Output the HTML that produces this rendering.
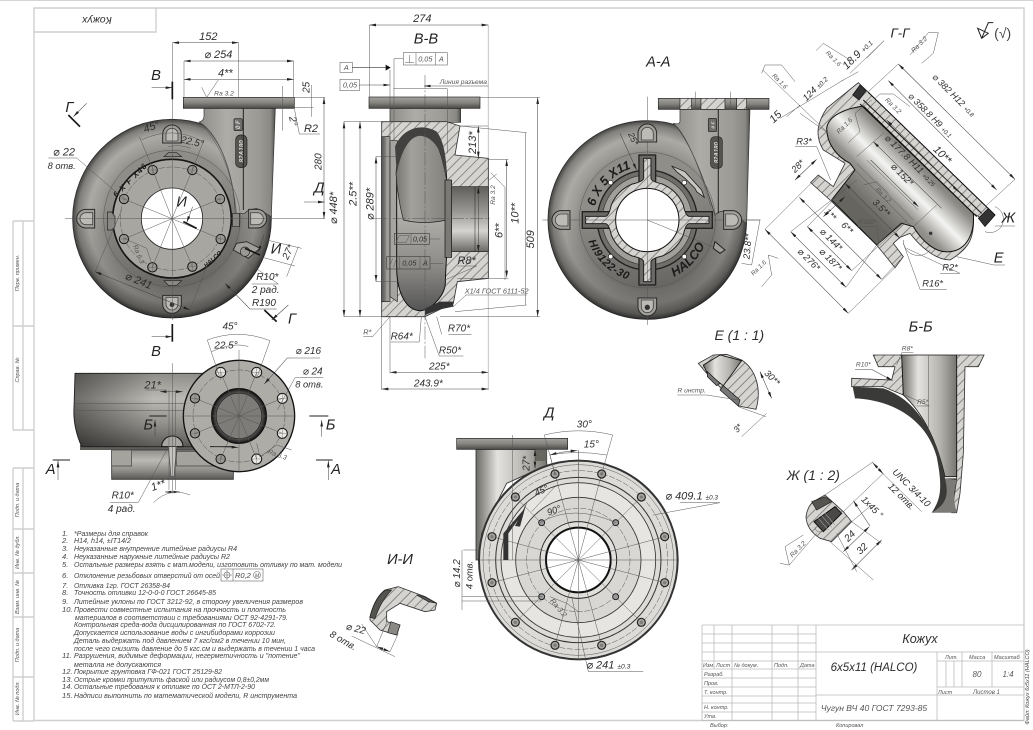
<!DOCTYPE html>
<html lang="ru"><head><meta charset="utf-8"><title>Кожух</title>
<style>
html,body{margin:0;padding:0;background:#fff}
svg{display:block}
text{font-family:"Liberation Sans","DejaVu Sans",sans-serif;font-style:italic;fill:#2e2e2e}
.t{font-size:33px;text-anchor:middle}
.b{font-size:44px;text-anchor:middle;fill:#222}
.s{font-size:22px;text-anchor:middle;fill:#555}
.n{font-size:7.6px;fill:#444}
.f{font-size:5.5px;fill:#555}
.l{stroke:#555;stroke-width:1.5;fill:none}
.d{stroke:#444;stroke-width:1.6;fill:none;marker-start:url(#a);marker-end:url(#a)}
.e{stroke:#444;stroke-width:1.6;fill:none;marker-end:url(#a)}
.c{stroke:#444;stroke-width:1.5;fill:none;stroke-dasharray:40 6 6 6}
.k{stroke:#161616;stroke-width:5;fill:none}
.m{stroke:#222;stroke-width:3;fill:none}
.fr{stroke:#cfcfcf;stroke-width:1.4;fill:none}
.tb{stroke:#bbb;stroke-width:.8;fill:none}
.h{fill:url(#hatch);stroke:#333;stroke-width:2.5}
.bold{font-weight:bold;font-size:38px;fill:#1c1c1c}
</style></head><body>
<svg xmlns="http://www.w3.org/2000/svg" width="1033" height="730" viewBox="0 0 1033 730">
<defs>
<marker id="a" markerUnits="userSpaceOnUse" viewBox="0 0 20 8" refX="20" refY="4" markerWidth="20" markerHeight="8" orient="auto-start-reverse"><path d="M0,0L20,4L0,8Z" fill="#222"/></marker>
<pattern id="hatch" patternUnits="userSpaceOnUse" width="20" height="20" patternTransform="rotate(45)"><rect width="20" height="20" fill="#d6d4d0"/><line x1="10" y1="0" x2="10" y2="20" stroke="#555" stroke-width="1.8"/></pattern>
<radialGradient id="vol"><stop offset="0" stop-color="#93918c"/><stop offset=".68" stop-color="#8f8d88"/><stop offset=".72" stop-color="#9a9893"/><stop offset=".84" stop-color="#acaaa5"/><stop offset=".95" stop-color="#807e7a"/><stop offset="1" stop-color="#444442"/></radialGradient>
<linearGradient id="shade" x1="0" x2=".25" y1="0" y2="1"><stop offset=".45" stop-color="#000" stop-opacity="0"/><stop offset="1" stop-color="#000" stop-opacity=".32"/></linearGradient>
<linearGradient id="neck" x1="0" x2="1" y1="0" y2="0"><stop offset="0" stop-color="#8f8d88"/><stop offset=".35" stop-color="#aeaca7"/><stop offset=".78" stop-color="#9c9a95"/><stop offset=".94" stop-color="#8a8883"/><stop offset="1" stop-color="#4f4f4d"/></linearGradient>
<linearGradient id="neck2" x1="0" x2="1" y1="0" y2="0"><stop offset="0" stop-color="#6d6b66"/><stop offset=".3" stop-color="#e3e2de"/><stop offset=".7" stop-color="#b5b3ae"/><stop offset="1" stop-color="#777570"/></linearGradient>
<linearGradient id="fl" x1="0" x2="0" y1="0" y2="1"><stop offset="0" stop-color="#a5a39e"/><stop offset=".5" stop-color="#86847f"/><stop offset="1" stop-color="#4a4947"/></linearGradient>
<linearGradient id="bore" x1="0" x2="0" y1="0" y2="1"><stop offset="0" stop-color="#5f5e5b"/><stop offset=".4" stop-color="#9c9a96"/><stop offset=".68" stop-color="#d5d4d0"/><stop offset="1" stop-color="#6a6965"/></linearGradient>
<linearGradient id="vcav" x1="0" x2="1" y1="0" y2="0"><stop offset="0" stop-color="#77756f"/><stop offset=".3" stop-color="#a3a19c"/><stop offset="1" stop-color="#84827d"/></linearGradient>
<linearGradient id="vlow" x1="0" x2="0" y1="0" y2="1"><stop offset="0" stop-color="#8f8d88"/><stop offset=".35" stop-color="#c0bfba"/><stop offset=".75" stop-color="#8e8c88"/><stop offset="1" stop-color="#555"/></linearGradient>
<linearGradient id="ggcav" gradientUnits="userSpaceOnUse" x1="770" y1="430" x2="560" y2="640"><stop offset="0" stop-color="#4a4946"/><stop offset=".3" stop-color="#8f8d88"/><stop offset=".52" stop-color="#f4f4f2"/><stop offset=".72" stop-color="#95938e"/><stop offset="1" stop-color="#66655f"/></linearGradient>
<linearGradient id="body" x1="0" x2="0" y1="0" y2="1"><stop offset="0" stop-color="#8f8d88"/><stop offset=".35" stop-color="#bcbab4"/><stop offset=".7" stop-color="#908e89"/><stop offset="1" stop-color="#5a5956"/></linearGradient>
<linearGradient id="bodyL" x1="0" x2="1" y1="0" y2="0"><stop offset="0" stop-color="#000" stop-opacity=".42"/><stop offset=".6" stop-color="#000" stop-opacity="0"/></linearGradient>
<linearGradient id="bodyx" x1="0" x2="1" y1="0" y2="0"><stop offset="0" stop-color="#555"/><stop offset=".45" stop-color="#7e7c78"/><stop offset=".55" stop-color="#9a9893"/><stop offset="1" stop-color="#a8a6a1"/></linearGradient>
<radialGradient id="cup"><stop offset="0" stop-color="#6a6966"/><stop offset=".7" stop-color="#8a8985"/><stop offset=".9" stop-color="#3d3c3a"/><stop offset="1" stop-color="#151515"/></radialGradient>
<g id="lug"><path d="M-28,24L28,24L28,-2A28,28 0 0 0 -28,-2Z" fill="#a19f99" stroke="#2a2a2a" stroke-width="3"/><path d="M-18,18L18,18L18,-2A18,18 0 0 0 -18,-2Z" fill="#bdbbb5" stroke="#444" stroke-width="2.5"/></g>
<g id="bolt"><circle r="14" fill="#9a9892" stroke="#161616" stroke-width="3"/><path d="M-14,0H14M0,-14V14" stroke="#555" stroke-width="1"/></g>
<g id="wb"><circle r="15" fill="#e9e8e4" stroke="#161616" stroke-width="3"/><path d="M-15,0H15M0,-15V15" stroke="#555" stroke-width="1"/></g>
<g id="h3"><circle r="12" fill="#a6a4a0" stroke="#222" stroke-width="3.5"/><circle r="5" fill="#7d7c78"/></g>
<path id="arcU" d="M-162,0A162,162 0 0 1 162,0"/>
<path id="arcD" d="M-188,0A188,188 0 0 0 188,0"/>
</defs>

<!-- sheet frame -->
<rect width="1033" height="730" fill="#fff"/>
<path d="M0,.5H1033" stroke="#d4d4d4" fill="none"/>
<path class="fr" d="M34,8H1024V720.5H34ZM34,32H156V8"/>
<path class="fr" d="M13,221H34M13,326H34M13,430H34M13,221V430M23,221V430M13,468H34M13,529H34M13,573H34M13,617H34M13,677H34M13,721H34M13,468V721M23,468V721"/>
<text transform="translate(97,20) rotate(180)" style="font-size:10.5px;text-anchor:middle;dominant-baseline:middle">Кожух</text>
<g class="f" style="font-size:5px"><text class="f" transform="translate(19,273) rotate(-90)" text-anchor="middle">Перв. примен.</text><text class="f" transform="translate(19,370) rotate(-90)" text-anchor="middle">Справ. №</text><text class="f" transform="translate(19,500) rotate(-90)" text-anchor="middle">Подп. и дата</text><text class="f" transform="translate(19,552) rotate(-90)" text-anchor="middle">Инв. № дубл.</text><text class="f" transform="translate(19,597) rotate(-90)" text-anchor="middle">Взам. инв. №</text><text class="f" transform="translate(19,645) rotate(-90)" text-anchor="middle">Подп. и дата</text><text class="f" transform="translate(19,698) rotate(-90)" text-anchor="middle">Инв. № подл.</text></g>

<!-- ===== FRONT VIEW ===== -->
<g transform="scale(.33333)">
<circle cx="516" cy="656" r="298" fill="url(#vol)" stroke="#2e2e2e" stroke-width="2.5"/>
<circle cx="516" cy="656" r="298" fill="url(#shade)"/>
<path d="M612,325V348Q612,362 598,366C650,400 700,500 706,640L735,640Q740,630 770,625L814,650L826,325Z" fill="url(#neck)" stroke="#333" stroke-width="2"/>
<rect x="550" y="292" width="333" height="33" fill="url(#fl)" stroke="#222" stroke-width="2"/>
<path d="M600,368C650,420 695,500 710,640M620,385C660,430 680,480 698,560" class="l"/>
<circle cx="516" cy="656" r="205" class="l"/>
<circle cx="516" cy="656" r="178" fill="#a8a6a0" stroke="#161616" stroke-width="5"/>
<circle cx="516" cy="656" r="155" class="l" stroke-dasharray="18 5"/>
<use href="#lug" x="516" y="405"/><use href="#lug" transform="translate(260,656) rotate(-90)"/><use href="#lug" transform="translate(770,656) rotate(90)"/><use href="#lug" transform="translate(516,910) rotate(180)"/>
<circle cx="516" cy="914" r="7" fill="#333"/>
<path d="M492,470H545L530,458H505ZM492,842H545L530,856H505Z" fill="#8a8883" stroke="#222" stroke-width="2"/>
<path d="M322,636H335L345,650V680L335,690H322Z" fill="#8a8883" stroke="#222" stroke-width="2"/>
<path d="M698,640H718V680H698Z" fill="#8a8883" stroke="#222" stroke-width="2"/>
<path d="M710,730L740,725L780,745L745,775L700,750Z" fill="#a19f99" stroke="#222" stroke-width="2.5"/>
<circle cx="735" cy="755" r="14" fill="#9a9892" stroke="#222" stroke-width="2"/>
<use href="#bolt" x="458" y="510"/><use href="#bolt" x="577" y="510"/><use href="#bolt" x="660" y="597"/><use href="#bolt" x="662" y="717"/><use href="#bolt" x="577" y="800"/><use href="#bolt" x="457" y="802"/><use href="#bolt" x="372" y="717"/><use href="#bolt" x="372" y="597"/>
<circle cx="516" cy="656" r="92" fill="#fff" stroke="#222" stroke-width="2.5"/>
<path class="l" d="M516,656L458,510M516,656L577,510M516,656L660,597M516,656L662,717M516,656L577,800M516,656L457,802M516,656L372,717M516,656L372,597"/>
<text transform="translate(396,546) rotate(-45)" class="bold" style="font-size:24px;letter-spacing:3px" text-anchor="middle">6 X F X46</text>
<text transform="translate(642,782) rotate(-42)" class="bold" style="font-size:18px" text-anchor="middle">HALCO</text>
<rect x="702" y="356" width="25" height="36" rx="4" fill="#6e6d6a" stroke="#222" stroke-width="2"/><text transform="translate(720,374) rotate(-90)" class="bold" style="font-size:18px;fill:#ddd" text-anchor="middle">0 F</text>
<rect x="707" y="405" width="34" height="98" rx="14" fill="#55544f" stroke="#222" stroke-width="2"/><text transform="translate(730,454) rotate(-90)" class="bold" style="font-size:19px;fill:#ddd" text-anchor="middle">82A180</text>
<path class="m" d="M730,325V630"/>
<!-- centre lines -->
<path class="l" d="M195,656H975M517,130V960"/>
<!-- dims -->
<path class="d" d="M517,128H716"/><text class="t" x="625" y="120">152</text><path class="l" d="M716,128V292"/>
<path class="d" d="M552,183H881"/><text class="t" x="655" y="174">⌀ 254</text><path class="l" d="M552,183V292M881,183V292"/>
<path class="d" d="M552,238H881"/><text class="t" x="676" y="230">4**</text>
<text class="s" x="672" y="287" style="font-size:20px">Ra 3.2</text><path class="l" d="M605,262L620,292L655,240"/>
<text class="t" transform="translate(928,262) rotate(-90)" style="font-size:30px">25</text><path class="l" d="M845,292H975M845,322H940M935,255V350M847,258V392"/>
<text class="t" transform="translate(870,365) rotate(80)" style="font-size:30px">2°</text>
<text class="t" x="933" y="396">R2</text><path class="l" d="M883,325L898,402H960"/>
<text class="t" transform="translate(964,485) rotate(-90)" style="font-size:30px">280</text><path class="d" d="M972,292V656"/>
<text class="b" x="958" y="578">Д</text><path class="e" d="M912,606H974" stroke-width="3"/>
<text class="b" x="468" y="240">В</text><path class="e" d="M455,263H517"/><path class="k" d="M517,245V298"/>
<path class="e" d="M455,1010H517"/><path class="k" d="M517,972V1025"/>
<text class="b" x="208" y="336">Г</text><path class="k" d="M205,345L240,380"/><path class="e" d="M260,310L220,350"/>
<text class="b" x="876" y="970">Г</text><path class="k" d="M793,930L830,965"/><path class="e" d="M865,915L815,960"/>
<text class="t" x="192" y="467">⌀ 22</text><path class="l" d="M145,474H230L372,597"/><text class="t" x="185" y="507" style="font-size:28px">8 отв.</text>
<text class="t" transform="translate(458,390) rotate(-20)">45°</text><text class="t" transform="translate(575,435) rotate(12)" style="font-size:30px">22.5°</text>
<path class="l" d="M418,410L460,510M612,420L577,510M425,420Q516,375 610,425M505,440Q540,432 572,445"/>
<text class="b" x="545" y="620">И</text><path class="e" d="M578,620L560,668"/><path class="k" d="M550,665L590,685"/>
<text class="b" x="828" y="760">И</text><path class="e" d="M792,705L775,757"/><path class="k" d="M735,745L780,765"/>
<text class="t" transform="translate(873,760) rotate(-65)" style="font-size:30px">27*</text><path class="l" d="M780,770L885,798M800,720L905,745M895,740L860,830"/>
<text class="t" x="802" y="840" style="font-size:30px">R10*</text><path class="l" d="M755,852H835L740,785"/><text class="t" x="797" y="879" style="font-size:30px">2 рад.</text>
<text class="t" x="792" y="918" style="font-size:30px">R190</text><path class="e" d="M830,927H750L675,850"/>
<text class="t" transform="translate(412,852) rotate(22)">⌀ 241</text><path class="d" d="M285,815L570,930"/><path class="l" d="M285,815L365,630M570,930L628,780"/>
<text class="s" transform="translate(410,765) rotate(68)" style="font-size:20px">Ra 6.3</text><path class="l" d="M372,715L440,745L455,790"/>
</g>

<!-- ===== SECTION B-B ===== -->
<g transform="translate(340,0) scale(.33333)">
<path d="M445,75V1170" stroke="#c4c4c4" stroke-width="3"/>
<rect x="150" y="325" width="212" height="42" fill="url(#neck)" stroke="#333" stroke-width="2"/>
<rect x="87" y="291" width="333" height="34" fill="url(#fl)" stroke="#222" stroke-width="2"/>
<path class="h" d="M125,365H320L360,378L345,465L445,475V835L352,845L340,910L300,928L255,950H125Z"/>
<rect x="125" y="410" width="25" height="495" fill="url(#bodyx)" stroke="#222" stroke-width="2"/>
<path d="M150,422H172V905L150,890Z" fill="#a6a4a0" stroke="#222" stroke-width="2"/>
<path d="M170,520C175,440 215,385 250,385C285,385 318,440 320,540V760L316,840C320,880 280,925 245,932C200,935 170,880 170,800Z" fill="url(#vlow)" stroke="#111" stroke-width="3"/>
<path d="M168,520C172,440 215,395 250,395C275,395 300,430 320,540V660Q250,675 190,660Q172,590 168,520Z" fill="url(#vcav)" stroke="#222" stroke-width="2"/>
<path d="M165,440C190,380 250,370 290,395C310,420 320,470 320,530L305,470C290,425 260,405 235,408C200,415 180,470 170,520Z" fill="#42413f"/>
<rect x="315" y="540" width="20" height="232" fill="#7a7974" stroke="#111" stroke-width="2"/>
<rect x="335" y="560" width="110" height="195" fill="url(#bore)" stroke="#222" stroke-width="2"/>
<path class="m" d="M405,560V755" style="stroke-width:1.5"/>
<path d="M255,925L300,905L340,905V920L300,928L255,945Z" fill="#333"/>
<path class="l" d="M255,225V1075M100,655H450" stroke-dasharray="40 6 6 6"/>
<path class="d" d="M88,75H445"/><text class="t" x="247" y="66">274</text><path class="l" d="M88,75V292"/>
<text class="b" x="258" y="130">В-В</text>
<text class="b" x="955" y="200">А-А</text>
<rect x="0" y="187" width="37" height="30" fill="#fff" stroke="#777" stroke-width="2"/><text class="s" x="19" y="210">А</text><path d="M37,202H140" stroke="#333" stroke-width="2"/><path d="M137,194L152,203L137,212Z" fill="#111"/>
<rect x="0" y="238" width="58" height="34" fill="#fff" stroke="#777" stroke-width="2"/><text class="s" x="30" y="263">0,05</text><path class="e" d="M58,255H150"/>
<rect x="190" y="158" width="132" height="37" fill="#fff" stroke="#777" stroke-width="2"/><path d="M228,158V195M286,158V195M195,188H222M208,165V188" class="l"/><text class="s" x="256" y="184">0,05</text><text class="s" x="304" y="184">А</text><path class="l" d="M190,176H162V420"/>
<text class="s" x="370" y="252" style="font-size:20px">Линия разъема</text><path class="e" d="M445,258H252"/><path class="l" d="M160,266H322V460M150,210V430"/>
<path class="d" d="M12,365V950"/><path class="l" d="M12,365H125M12,950H125"/>
<path class="d" d="M60,365V950"/><text class="t" transform="translate(50,582) rotate(-90)">2.5**</text>
<path class="d" d="M108,470V845"/><path class="l" d="M108,470H170M108,845H175"/><text class="t" transform="translate(100,612) rotate(-90)">⌀ 289*</text>
<path class="d" d="M415,378V475"/><text class="t" transform="translate(408,428) rotate(-90)">213*</text><path class="l" d="M360,378H445"/>
<path class="d" d="M500,478V832"/><text class="t" transform="translate(536,640) rotate(-90)">10**</text><path class="l" d="M445,478H505M352,835H505"/>
<path class="d" d="M415,560V755"/><text class="t" transform="translate(488,692) rotate(-90)">6**</text>
<path class="l" d="M360,378L560,398M345,935L560,915M556,398V915"/>
<text class="t" transform="translate(582,718) rotate(-90)">509</text><path class="d" d="M593,292V950"/><path class="l" d="M420,292H600M300,950H600"/>
<text class="s" transform="translate(465,585) rotate(-90)" style="font-size:20px">Ra 3.2</text><path class="l" d="M452,518L495,562V840M470,522L448,540"/>
<text class="t" x="380" y="792">R8*</text><path class="l" d="M352,798H410L315,840"/>
<rect x="163" y="700" width="105" height="33" fill="none" stroke="#444" stroke-width="2"/><path class="l" d="M213,700V733M168,728L178,706H208L198,728ZM268,717H300"/><text class="s" x="240" y="725" style="fill:#333">0,05</text>
<rect x="140" y="770" width="130" height="37" fill="none" stroke="#444" stroke-width="2"/><path class="l" d="M178,770V807M240,770V807M148,802L158,775M160,802L170,775M270,790H310"/><text class="s" x="208" y="797" style="fill:#333">0,05</text><text class="s" x="256" y="797" style="fill:#333">А</text>
<text class="s" x="470" y="880">X1/4 ГОСТ 6111-52</text><path class="l" d="M378,885H560M378,885L340,920"/>
<text class="s" x="82" y="1003">R*</text><path class="l" d="M70,1010H98L150,950"/>
<text class="t" x="185" y="1018" style="font-size:30px">R64*</text><path class="l" d="M152,1026H238L244,950"/>
<text class="t" x="357" y="995" style="font-size:30px">R70*</text><path class="l" d="M325,1003H395M305,1003L290,950"/>
<text class="t" x="330" y="1060" style="font-size:30px">R50*</text><path class="l" d="M298,1068H370M298,1068L255,950"/>
<path class="d" d="M150,1117H445"/><text class="t" x="298" y="1108" style="font-size:30px">225*</text>
<path class="d" d="M125,1167H445"/><text class="t" x="265" y="1160" style="font-size:30px">243.9*</text>
<path class="l" d="M150,950V1120M125,950V1170"/>
</g>
<text class="t" transform="translate(337,208) rotate(-90)" style="font-size:11px">⌀ 448*</text>

<!-- ===== A-A ===== -->
<g transform="translate(647.3,220) scale(.33333)">
<circle r="298" fill="url(#vol)" stroke="#2e2e2e" stroke-width="2.5"/>
<circle r="298" fill="url(#shade)"/>
<path d="M98,-333V-295Q95,-285 78,-290C120,-250 170,-130 203,-15Q215,-30 240,-25L298,10L308,-333Z" fill="url(#neck)" stroke="#333" stroke-width="2"/>
<path class="l" d="M90,-280C130,-230 165,-130 190,-40"/>
<circle r="204" class="l"/>
<rect x="33" y="-365" width="332" height="33" fill="url(#fl)" stroke="#222" stroke-width="2"/>
<path d="M98,-365H133V-332H98ZM161,-365H233V-332H161ZM268,-365H298V-332H268Z" fill="url(#hatch)" stroke="#222" stroke-width="2"/>
<path class="l" d="M145,-385V-332M250,-385V-332"/>
<circle r="150" fill="#6f6e69" stroke="#222" stroke-width="4"/>
<circle r="135" fill="#a19f9a" stroke="#333" stroke-width="2"/>
<g fill="#6a6965" stroke="#222" stroke-width="4"><rect x="-25" y="-195" width="50" height="85"/><rect x="-25" y="110" width="50" height="85"/><rect x="-195" y="-25" width="85" height="50"/><rect x="110" y="-25" width="85" height="50"/></g>
<path d="M-11,-185H11V-125Q13,-115 45,-108A118,118 0 0 1 108,-45Q115,-13 125,-11H185V11H125Q115,13 108,45A118,118 0 0 1 45,108Q13,115 11,125V185H-11V125Q-13,115 -45,108A118,118 0 0 1 -108,45Q-115,13 -125,11H-185V-11H-125Q-115,-13 -108,-45A118,118 0 0 1 -45,-108Q-13,-115 -11,-125Z" fill="url(#hatch)" stroke="#222" stroke-width="3"/>
<circle r="95" fill="#fff" stroke="#111" stroke-width="3"/>
<path class="l" d="M-315,0H340M0,-370V315M0,0L225,92"/>
<use href="#lug" x="0" y="-258"/><use href="#lug" transform="translate(-256,0) rotate(-90)"/><use href="#lug" transform="translate(253,0) rotate(90)"/><use href="#lug" transform="translate(0,258) rotate(180)"/>
<circle cx="0" cy="262" r="8" fill="#333"/>
<text class="bold"><textPath href="#arcU" startOffset="8%">6 X 5 X11</textPath></text>
<text class="bold" style="font-size:33px;letter-spacing:2px"><textPath href="#arcD" startOffset="11%">HI9122-30</textPath></text>
<text class="bold"><textPath href="#arcD" startOffset="64%">HALCO</textPath></text>
<g fill="#fff" stroke="#111" stroke-width="2"><circle cx="-110" cy="-112" r="7"/><circle cx="-110" cy="110" r="7"/><circle cx="111" cy="110" r="7"/><circle cx="111" cy="-112" r="7"/></g>
<path d="M73,-162L113,-145L163,-90L171,-68L148,-85L143,-95L113,-125L88,-145Z" fill="#c9c7c2" stroke="#222" stroke-width="2.5"/>
<path d="M203,65L233,90L218,100L198,85Z" fill="#a19f9a" stroke="#222" stroke-width="3"/>
<rect x="183" y="-305" width="25" height="40" rx="4" fill="#6e6d6a" stroke="#222" stroke-width="2"/><text transform="translate(201,-285) rotate(-90)" class="bold" style="font-size:15px;fill:#ddd" text-anchor="middle">0 F</text>
<rect x="190" y="-250" width="35" height="95" rx="12" fill="#55544f" stroke="#222" stroke-width="2"/><text transform="translate(214,-202) rotate(-90)" class="bold" style="font-size:18px;fill:#ddd" text-anchor="middle">82A180</text>
<path class="m" d="M213,-333V-20"/>
<text class="t" transform="translate(-50,-240) rotate(65)" style="font-size:26px">25*</text><path class="e" d="M-82,-260L-32,-150"/>
<text class="t" transform="translate(310,80) rotate(-85)" style="font-size:28px">23.8**</text><path class="l" d="M298,0H338L313,135L283,130"/>
</g>

<!-- ===== Г-Г ===== -->
<g transform="translate(680,0) scale(.33333)">
<path class="h" d="M535,248L565,277L945,645L925,668L880,640C885,710 870,745 810,780C770,780 725,745 690,700L660,712L640,730L670,770L645,803L590,735L450,600L392,548L415,525L460,560L495,490L430,450C405,410 410,370 440,325Z"/>
<path d="M550,318L880,640C885,700 860,750 810,755C770,760 730,730 700,680L665,670L590,735L455,600L525,510L510,490C470,470 440,430 440,385C445,345 500,325 550,318Z" fill="url(#ggcav)" stroke="#111" stroke-width="3"/>
<path d="M565,277L945,645M550,300L905,640M540,312L890,650" stroke="#111" stroke-width="3" fill="none"/>
<path d="M518,285L540,255L558,272L537,300Z" fill="#333" stroke="#111" stroke-width="2"/>
<path d="M895,655L925,625L945,645L915,680Z" fill="#333" stroke="#111" stroke-width="2"/>
<path class="l" d="M530,490L700,660M525,510L690,675M455,600L530,540M590,735L665,665M700,680L770,615M530,470L610,400M560,480L715,630"/>
<text class="t" transform="translate(540,170) rotate(-45)">18.9 <tspan font-size="20">+0.1</tspan></text>
<path class="l" d="M612,122L510,220M485,243L535,215"/>
<text class="s" transform="translate(456,180) rotate(45)" style="font-size:19px">Ra 1.6</text><path class="l" d="M408,152L430,130L510,180"/>
<text class="s" transform="translate(295,248) rotate(45)" style="font-size:19px">Ra 1.6</text><path class="l" d="M245,220L255,195H305L345,245"/>
<text class="t" transform="translate(412,272) rotate(-45)" style="font-size:28px">124 <tspan font-size="20">±0.2</tspan></text>
<text class="t" transform="translate(294,358) rotate(-45)">15</text>
<path class="l" d="M320,350L360,315M300,355L490,240M248,210L440,395M445,400L360,340"/>
<text class="t" x="372" y="434" style="font-size:28px">R3*</text><path class="l" d="M345,440H410L452,540"/>
<text class="t" transform="translate(360,505) rotate(-45)" style="font-size:28px">28*</text><path class="d" d="M345,540L410,478"/>
<text class="s" transform="translate(722,138) rotate(-45)" style="font-size:20px">Ra 3.2</text><path class="l" d="M690,165L745,98H775L760,160L725,190"/>
<text class="s" transform="translate(635,322) rotate(45)" style="font-size:20px">Ra 3.2</text><path class="l" d="M585,295L600,282H640L690,320"/>
<text class="s" transform="translate(498,382) rotate(-45)" style="font-size:20px">Ra 1.6</text><path class="l" d="M505,428L540,395L525,340L575,300"/>
<text class="t" transform="translate(815,292) rotate(45)" style="font-size:27px">⌀ 382 H12 <tspan font-size="18">+0.8</tspan></text>
<path class="d" d="M655,192L1005,538"/><path class="l" d="M565,275L655,192M915,620L1005,538"/>
<text class="t" transform="translate(745,352) rotate(45)" style="font-size:27px">⌀ 358.8 H9 <tspan font-size="18">+0.1</tspan></text>
<path class="d" d="M625,242L950,570"/>
<text class="t" transform="translate(780,472) rotate(45)">10**</text><path class="d" d="M620,360L835,575"/>
<text class="t" transform="translate(685,488) rotate(45)" style="font-size:28px">⌀ 177.8 H11 <tspan font-size="18">+0.25</tspan></text>
<text class="t" transform="translate(660,530) rotate(45)" style="font-size:28px">⌀ 152*</text>
<path class="d" d="M580,425L785,625M572,480L715,620"/>
<text class="s" transform="translate(605,590) rotate(45)" style="font-size:19px">Ra 3.2</text><path class="l" d="M550,555L590,545L625,580"/>
<text class="t" transform="translate(598,630) rotate(45)" style="font-size:28px">3.5**</text><path class="d" d="M495,550L660,715"/>
<text class="t" transform="translate(445,650) rotate(45)" style="font-size:28px">1**</text><path class="d" d="M430,650L495,590"/>
<text class="t" transform="translate(495,690) rotate(45)" style="font-size:28px">6**</text>
<path class="d" d="M358,592L605,838"/>
<text class="t" transform="translate(447,725) rotate(45)" style="font-size:28px">⌀ 144*</text><path class="d" d="M382,680L515,812"/>
<text class="t" transform="translate(445,785) rotate(45)" style="font-size:28px">⌀ 187*</text><path class="d" d="M332,695L498,862"/>
<text class="t" transform="translate(380,785) rotate(45)" style="font-size:28px">⌀ 276*</text><path class="d" d="M255,688L505,940"/>
<path class="l" d="M255,688L395,548M332,695L455,600M382,680L470,590M505,940L645,803M498,862L590,735M515,812L680,660M605,838L660,780"/>
<text class="s" transform="translate(240,808) rotate(-45)" style="font-size:19px">Ra 1.6</text><path class="l" d="M245,860L275,825L265,765L295,775"/>
<text class="s" x="562" y="672" style="font-size:20px">R320*</text><path class="l" d="M532,680H592L596,735"/>
<circle cx="752" cy="700" r="5" fill="#333"/>
<path class="l" d="M670,720A45,45 0 0 0 750,750"/>
<path class="l" d="M945,620A40,40 0 0 1 915,695"/>
<text class="b" x="985" y="668">Ж</text><path class="l" d="M945,678H1005"/>
<text class="b" x="956" y="788">Е</text><path class="l" d="M830,770L942,795H975"/>
<text class="t" x="810" y="812" style="font-size:28px">R2*</text><path class="l" d="M780,820H840L680,745" />
<text class="t" x="758" y="860" style="font-size:28px">R16*</text><path class="l" d="M720,868H800M720,868L670,730"/>
<text class="b" x="660" y="112" style="font-size:40px">Г-Г</text><path class="l" d="M612,122L560,175"/>
<path d="M893,85L925,100L905,115ZM905,115L925,68H940" stroke="#222" stroke-width="3" fill="none"/>
<text class="t" x="968" y="114" style="font-size:42px;font-style:normal;fill:#444">(√)</text>
</g>

<!-- ===== TOP VIEW ===== -->
<g transform="translate(0,340) scale(.33333)">
<path d="M240,315H620V330H240Z" fill="#5e5d5a"/>
<path d="M335,330H700V418H335Z" fill="url(#body)" stroke="#333" stroke-width="2.5"/>
<path d="M335,330H395V378H335ZM530,335H640V378H530Z" fill="#a5a39d" stroke="#444" stroke-width="2"/>
<path d="M225,100H620V320H245Q218,260 222,200Z" fill="url(#body)" stroke="#222" stroke-width="2.5"/>
<path d="M225,100H620V320H245Q218,260 222,200Z" fill="url(#bodyL)"/>
<path class="l" d="M222,190H600M222,212H600"/>
<path d="M485,320A32,32 0 0 1 549,320Z" fill="#a9a7a1" stroke="#111" stroke-width="3"/>
<path d="M505,320H530L522,410H513Z" fill="#c6c4be" stroke="#444" stroke-width="2"/>
<circle cx="717" cy="228" r="167" fill="#aeaca6" stroke="#111" stroke-width="4"/>
<circle cx="717" cy="228" r="138" class="l" stroke-dasharray="18 5"/>
<circle cx="717" cy="228" r="82" fill="url(#cup)" stroke="#111" stroke-width="4"/>
<circle cx="717" cy="228" r="68" fill="#7d7c78" stroke="#222" stroke-width="2"/>
<use href="#wb" x="662" y="97"/><use href="#wb" x="770" y="97"/><use href="#wb" x="847" y="175"/><use href="#wb" x="847" y="280"/><use href="#wb" x="770" y="357"/><use href="#bolt" x="662" y="357"/><use href="#bolt" x="585" y="280"/><use href="#bolt" x="585" y="175"/>
<path class="l" d="M717,228L662,97M717,228L770,97M717,228L847,175M717,228L847,280M717,228L770,357M717,228L662,357M717,228L585,280M717,228L585,175M550,228H885M717,30V395"/>
<path class="m" d="M630,320H700"/>
<path class="l" d="M517,70V460M507,150V450M527,150V450"/>
<path class="d" d="M480,155H548"/><path class="l" d="M437,150H500"/><text class="t" x="458" y="146">21*</text>
<text class="b" x="445" y="268">Б</text><path class="m" d="M448,228H500"/><path class="e" d="M465,290V240"/>
<text class="b" x="992" y="268">Б</text><path class="m" d="M928,228H985"/><path class="e" d="M965,290V240"/>
<text class="b" x="152" y="402">А</text><path class="m" d="M158,360H210"/><path class="e" d="M174,420V362"/>
<text class="b" x="1008" y="402">А</text><path class="m" d="M948,360H998"/><path class="e" d="M985,420V362"/>
<text class="t" x="478" y="446" transform="rotate(-20 478 446)">1**</text><path class="d" d="M495,456H540"/><path class="l" d="M460,488Q510,440 570,465"/>
<text class="t" x="368" y="475" style="font-size:30px">R10*</text><path class="l" d="M330,487H415L500,330"/><text class="t" x="365" y="516" style="font-size:30px">4 рад.</text>
<text class="t" x="925" y="42" style="font-size:30px">⌀ 216</text><path class="e" d="M880,54H862L793,132"/><path class="l" d="M880,54H960"/>
<text class="t" x="938" y="104" style="font-size:30px">⌀ 24</text><path class="l" d="M885,113H970M885,113L832,210"/><text class="t" x="928" y="143" style="font-size:28px">8 отв.</text>
<text class="s" transform="translate(830,350) rotate(20)" style="font-size:20px">Ra 6.3</text><path class="l" d="M770,310L780,350L830,315L875,330"/>
<path class="e" d="M640,320L715,322"/>
</g>
<g transform="scale(.33333)">
<text class="b" x="468" y="1068">В</text>
<text class="t" x="690" y="988" style="font-size:30px">45°</text>
<text class="t" x="678" y="1045" style="font-size:30px">22.5°</text>
<path class="l" d="M622,1020Q715,985 810,1022M622,1020L662,1140M810,1022L770,1135M635,1055Q700,1025 745,1040"/>
</g>

<!-- ===== VIEW Д ===== -->
<g transform="translate(440,400) scale(.33333)">
<text class="b" x="328" y="52">Д</text>
<path d="M108,148H320V188L322,200L300,205L200,250L125,400L118,480H108Z" fill="url(#neck2)" stroke="#333" stroke-width="2.5"/>
<rect x="50" y="115" width="333" height="33" fill="url(#fl)" stroke="#222" stroke-width="2"/>
<rect x="285" y="148" width="35" height="35" fill="#67665f"/>
<circle cx="415" cy="480" r="298" fill="#dcdbd7" stroke="#333" stroke-width="6"/>
<circle cx="415" cy="480" r="286" class="l"/>
<circle cx="415" cy="480" r="268" class="l" stroke-dasharray="18 5"/>
<circle cx="415" cy="480" r="248" fill="none" stroke="#333" stroke-width="3"/>
<circle cx="415" cy="480" r="232" fill="#e6e5e1" stroke="#333" stroke-width="2.5"/>
<circle cx="415" cy="480" r="188" fill="#d8d7d3" stroke="#333" stroke-width="2.5"/>
<circle cx="415" cy="480" r="155" class="l" stroke-dasharray="18 5"/>
<circle cx="415" cy="480" r="115" fill="#e0dfdb" stroke="#222" stroke-width="3"/>
<circle cx="415" cy="480" r="97" fill="#fff" stroke="#111" stroke-width="6"/>
<path class="l" d="M415,480L345,222M415,480L485,222M415,480L604,291M415,480L674,410M415,480L674,548M415,480L604,667M415,480L485,736M415,480L345,736M415,480L226,667M415,480L156,548M415,480L156,410M415,480L226,291M120,480H712M415,150V780"/>
<path d="M190,480V400L250,330L245,345L205,400V480ZM225,378L262,305L255,325L240,380Z" fill="#333"/>
<use href="#h3" x="345" y="222"/><use href="#h3" x="485" y="222"/><use href="#h3" x="604" y="291"/><use href="#h3" x="674" y="410"/><use href="#h3" x="674" y="548"/><use href="#h3" x="604" y="667"/><use href="#h3" x="485" y="736"/><use href="#h3" x="345" y="736"/><use href="#h3" x="226" y="667"/><use href="#h3" x="156" y="548"/><use href="#h3" x="156" y="410"/><use href="#h3" x="226" y="291"/>
<g fill="#999" stroke="#111" stroke-width="2.5"><circle cx="305" cy="368" r="9"/><circle cx="527" cy="368" r="9"/><circle cx="527" cy="590" r="9"/><circle cx="305" cy="590" r="9"/></g>
<text class="t" x="433" y="82" style="font-size:30px">30°</text><path class="l" d="M313,105Q415,80 518,105M313,105L345,222M518,105L485,222"/>
<text class="t" x="454" y="142" style="font-size:30px">15°</text><path class="l" d="M330,165Q410,150 500,165M330,165L345,222M415,155V300"/><path class="d" d="M330,165Q370,154 412,152" />
<text class="t" transform="translate(268,190) rotate(-90)" style="font-size:30px">27*</text><path class="d" d="M285,148V205"/><path class="l" d="M217,105V480"/>
<text class="t" transform="translate(308,280) rotate(-25)" style="font-size:28px">45°</text><path class="l" d="M275,335L345,260"/>
<text class="t" transform="translate(345,340) rotate(-20)" style="font-size:28px">90°</text><path class="l" d="M300,368Q400,310 527,368"/>
<text class="s" transform="translate(350,628) rotate(50)" style="font-size:22px">Ra 3.2</text><path class="l" d="M330,590L380,610L415,635"/>
<text class="t" transform="translate(60,520) rotate(-90)" style="font-size:30px">⌀ 14.2</text><path class="l" d="M66,450V630M108,450H70"/>
<text class="t" transform="translate(98,525) rotate(-90)" style="font-size:28px">4 отв.</text><path class="l" d="M66,590H305M66,603H305"/>
<text class="t" x="755" y="298">⌀ 409.1 <tspan font-size="19">±0.3</tspan></text><path class="l" d="M720,308H840L640,345"/>
<text class="t" x="505" y="805">⌀ 241 <tspan font-size="20">±0.3</tspan></text><path class="l" d="M445,815H610M445,815L395,590"/>
</g>

<!-- ===== DETAILS ===== -->
<g transform="translate(670,320) scale(.33333)">
<text class="t" x="208" y="60" style="font-size:42px">Е  (1 : 1)</text>
<path class="h" d="M85,130L130,105L170,103L215,120C260,150 275,210 258,268L205,258L110,160Z"/>
<path d="M100,135L150,105L215,122L160,197L112,160Z" fill="url(#neck2)" stroke="#111" stroke-width="2.5"/>
<path d="M112,155L150,190L140,197L112,170ZM160,197L210,240L205,258L150,210Z" fill="#777" stroke="#111" stroke-width="2"/>
<text class="t" transform="translate(300,180) rotate(45)" style="font-size:28px">30**</text><path class="d" d="M270,155L305,235"/>
<text class="t" transform="translate(210,330) rotate(-50)" style="font-size:26px">3*</text><path class="l" d="M205,260L288,290M215,350L290,280"/>
<text class="s" x="65" y="218" style="font-size:20px">R инстр.</text><path class="l" d="M22,225H110L205,240"/>

<text class="b" x="752" y="34">Б-Б</text>
<path class="h" d="M610,105H695L700,225L640,200H545V175L665,180L675,140H625Z"/>
<path class="h" d="M860,105H942L925,140H885L880,400L870,520L860,578H845L860,480Z"/>
<path d="M695,105H860V470H825C800,360 760,280 700,225Z" fill="url(#neck2)" stroke="#111" stroke-width="2.5"/>
<path class="l" d="M775,105V350M775,350L790,370"/>
<path d="M548,200L640,205C740,240 800,340 825,475H860C850,520 850,560 860,578H785C810,540 820,510 800,410C770,300 670,240 555,235Z" fill="#3a3a38"/>
<path d="M825,475C835,520 835,550 785,578H860C850,540 850,510 860,480Z" fill="#7d7b77"/>
<text class="s" x="712" y="92" style="font-size:20px">R8*</text><path class="l" d="M695,98H730M695,98L680,135"/>
<text class="s" x="580" y="140" style="font-size:20px">R10*</text><path class="e" d="M555,148H605L668,182"/>
<text class="s" x="758" y="252" style="font-size:20px">R5*</text><path class="l" d="M740,258H778L705,225"/>

<text class="t" x="430" y="480" style="font-size:42px">Ж  (1 : 2)</text>
<path class="h" d="M430,545L465,525L520,575L545,605L485,665L450,655Q410,630 408,590Q412,560 430,545Z"/>
<path d="M425,545L465,530L485,545L440,570Z" fill="#55544f" stroke="#222" stroke-width="2"/>
<path d="M432,605L495,560L515,580L460,635Z" fill="#4a4947" stroke="#111" stroke-width="3"/>
<path d="M445,595L475,630M455,587L485,622M465,580L495,615" stroke="#999" stroke-width="2" fill="none"/>
<path class="l" d="M435,622A15,15 0 0 0 455,635M520,575L640,460M545,605L605,555M480,665L610,780M440,640L358,735L345,680L400,645M358,735L330,730"/>
<path class="d" d="M608,428L640,462"/><path class="l" d="M465,525L610,425M640,462L755,575"/>
<text class="t" transform="translate(718,510) rotate(45)" style="font-size:28px">UNC 3/4-10</text>
<text class="t" transform="translate(688,536) rotate(45)" style="font-size:28px">12 отв.</text>
<text class="t" transform="translate(600,568) rotate(45)" style="font-size:28px">1x45 °</text><path class="e" d="M600,618L550,542"/>
<text class="t" transform="translate(546,655) rotate(-45)" style="font-size:30px">24</text><path class="d" d="M520,695L598,620"/>
<text class="t" transform="translate(583,693) rotate(-45)" style="font-size:30px">32</text><path class="d" d="M545,750L635,660"/>
<path class="l" d="M545,605L635,670M500,640L560,755"/>
<text class="s" transform="translate(388,692) rotate(-45)" style="font-size:20px">Ra 3.2</text>
</g>

<!-- ===== И-И ===== -->
<g transform="translate(345,540) scale(.33333)">
<text class="b" x="165" y="72">И-И</text>
<path class="h" d="M75,230C85,190 100,165 120,150L160,140L240,170L275,190L270,210L240,215L165,190L125,215V245L165,255L155,285L105,270L75,240Z"/>
<path d="M75,232C85,190 100,165 122,150L140,150C115,175 100,205 90,236Z" fill="#55544f" stroke="#222" stroke-width="2"/>
<path d="M215,165L240,170L275,190L250,185Z" fill="#555" stroke="#222" stroke-width="2"/>
<path d="M138,245L165,255L155,285L128,278Z" fill="#8a8883" stroke="#222" stroke-width="2"/>
<path class="l" d="M128,240L95,320M160,280L135,335"/>
<path class="d" d="M95,320L135,335"/>
<path class="l" d="M20,288L150,350M50,252L95,320"/>
<text class="t" transform="translate(30,275) rotate(15)" style="font-size:30px">⌀ 22</text>
<text class="t" transform="translate(-10,310) rotate(30)" style="font-size:29px">8 отв.</text>
</g>

<!-- notes -->
<g class="n">
<text class="n" x="62" y="536">1.</text><text class="n" x="74" y="536" textLength="74" lengthAdjust="spacingAndGlyphs">*Размеры для справок</text>
<text class="n" x="62" y="543">2.</text><text class="n" x="74" y="543" textLength="57" lengthAdjust="spacingAndGlyphs">Н14, h14, ±IT14/2</text>
<text class="n" x="62" y="551">3.</text><text class="n" x="74" y="551" textLength="163" lengthAdjust="spacingAndGlyphs">Неуказанные внутренние литейные радиусы R4</text>
<text class="n" x="62" y="559">4.</text><text class="n" x="74" y="559" textLength="156" lengthAdjust="spacingAndGlyphs">Неуказанные наружные литейные радиусы R2</text>
<text class="n" x="62" y="567">5.</text><text class="n" x="74" y="567" textLength="268" lengthAdjust="spacingAndGlyphs">Остальные размеры взять с мат.модели, изготовить отливку по мат. модели</text>
<text class="n" x="62" y="578">6.</text><text class="n" x="74" y="578" textLength="146" lengthAdjust="spacingAndGlyphs">Отклонение резьбовых отверстий от осей</text>
<text class="n" x="62" y="588">7.</text><text class="n" x="74" y="588" textLength="96" lengthAdjust="spacingAndGlyphs">Отливка 1гр. ГОСТ 26358-84</text>
<text class="n" x="62" y="595">8.</text><text class="n" x="74" y="595" textLength="142" lengthAdjust="spacingAndGlyphs">Точность отливки 12-0-0-0 ГОСТ 26645-85</text>
<text class="n" x="62" y="604">9.</text><text class="n" x="74" y="604" textLength="229" lengthAdjust="spacingAndGlyphs">Литейные уклоны по ГОСТ 3212-92, в сторону увеличения размеров</text>
<text class="n" x="62" y="612">10.</text><text class="n" x="74" y="612" textLength="212" lengthAdjust="spacingAndGlyphs">Провести совместные испытания на прочность и плотность</text>
<text class="n" x="75" y="620" textLength="213" lengthAdjust="spacingAndGlyphs">материалов в соответствии с требованиями ОСТ 92-4291-79.</text>
<text class="n" x="74" y="627" textLength="202" lengthAdjust="spacingAndGlyphs">Контрольная среда-вода дисцилированная по ГОСТ 6702-72.</text>
<text class="n" x="74" y="635" textLength="201" lengthAdjust="spacingAndGlyphs">Допускается использование воды с ингибидорами коррозии</text>
<text class="n" x="74" y="643" textLength="212" lengthAdjust="spacingAndGlyphs">Деталь выдержать под давлением 7 кгс/см2 в течении 10 мин,</text>
<text class="n" x="74" y="651" textLength="241" lengthAdjust="spacingAndGlyphs">после чего снизить давление до 5 кгс.см и выдержать в течении 1 часа</text>
<text class="n" x="62" y="658">11.</text><text class="n" x="74" y="658" textLength="226" lengthAdjust="spacingAndGlyphs">Разрушения, видимые деформации, негерметичность и "потение"</text>
<text class="n" x="74" y="667" textLength="87" lengthAdjust="spacingAndGlyphs">металла не допускаются</text>
<text class="n" x="62" y="674">12.</text><text class="n" x="74" y="674" textLength="148" lengthAdjust="spacingAndGlyphs">Покрытие грунтовка ГФ-021 ГОСТ 25129-82</text>
<text class="n" x="62" y="682">13.</text><text class="n" x="74" y="682" textLength="195" lengthAdjust="spacingAndGlyphs">Острые кромки притупить фаской или радиусом 0,8±0,2мм</text>
<text class="n" x="62" y="689">14.</text><text class="n" x="74" y="689" textLength="181" lengthAdjust="spacingAndGlyphs">Остальные требования к отливке по ОСТ 2-МТЛ-2-90</text>
<text class="n" x="62" y="698">15.</text><text class="n" x="74" y="698" textLength="223" lengthAdjust="spacingAndGlyphs">Надписи выполнить по математической модели, R инструмента</text>
</g>
<g style="stroke:#666;stroke-width:.6;fill:none"><rect x="221" y="569" width="42" height="12"/><path d="M233,569V581"/><circle cx="227" cy="575" r="3"/><path d="M222,575H232M227,570V580"/><circle cx="257" cy="575" r="3.5"/></g>
<text class="n" x="235" y="578" style="font-size:7.5px">R0,2</text><text class="n" x="255" y="577.5" style="font-size:5px">M</text>

<!-- title block -->
<g class="tb">
<path d="M702,625H1024M702,634H816M702,643H816M702,652H1024M702,661H816M702,669H816M702,678H816M702,687H816M702,696H816M702,703H816M702,712H816M702,720.5H1024"/>
<path d="M702,625V720.5M714,625V669M732,625V720.5M772,625V720.5M798,625V720.5M816,625V720.5"/>
<path d="M816,695H1024M937,652V720.5M962,652V687M992,652V687M937,661H1024M937,687H1024M946,661V687M954,661V687"/>
</g>
<g style="font-size:5.2px">
<text x="703" y="667" class="f">Изм.</text><text x="716" y="667" class="f">Лист</text><text x="734" y="667" class="f">№ докум.</text><text x="774" y="667" class="f">Подп.</text><text x="800" y="667" class="f">Дата</text>
<text x="704" y="676" class="f">Разраб.</text><text x="704" y="685" class="f">Пров.</text><text x="704" y="694" class="f">Т. контр.</text><text x="704" y="709" class="f">Н. контр.</text><text x="704" y="718" class="f">Утв.</text>
<text x="945" y="659" class="f">Лит.</text><text x="969" y="659" class="f">Масса</text><text x="994" y="659" class="f">Масштаб</text>
<text x="938" y="694" class="f">Лист</text><text x="973" y="694" class="f" style="font-size:6px">Листов 1</text>
<text x="710" y="727" class="f">Выбор:</text><text x="836" y="727" class="f">Копировал</text>
</g>
<text x="920" y="643" style="font-size:12.5px;text-anchor:middle">Кожух</text>
<text x="874" y="671" style="font-size:11.5px;text-anchor:middle">6x5x11 (HALCO)</text>
<text x="874" y="711" style="font-size:8.5px;text-anchor:middle;fill:#555">Чугун ВЧ 40 ГОСТ 7293-85</text>
<text x="977" y="677" style="font-size:8px;text-anchor:middle;fill:#555">80</text>
<text x="1008" y="677" style="font-size:8px;text-anchor:middle;fill:#555">1:4</text>
<text transform="translate(1029,687) rotate(-90)" style="font-size:5.5px;text-anchor:middle;fill:#444">Файл: Кожух 6x5x11 (HALCO)</text>
</svg>
</body></html>
